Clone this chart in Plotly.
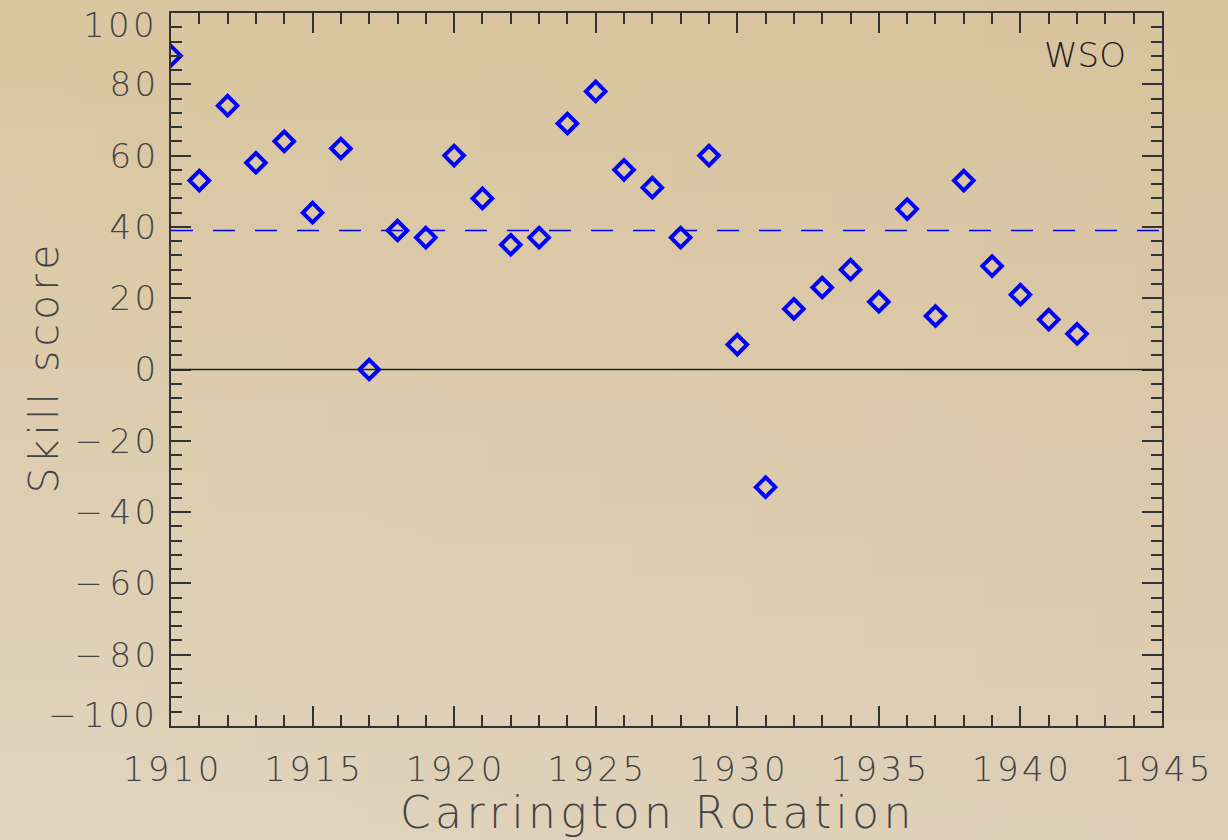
import base64
import struct
import zlib

import plotly.graph_objects as go

rotations = list(range(1910, 1943))
skill = [88, 53, 74, 58, 64, 44, 62, 0, 39, 37, 60, 48, 35, 37, 69, 78, 56, 51, 37, 60,
         7, -33, 17, 23, 28, 19, 45, 15, 53, 29, 21, 14, 10]
mean_skill = 39
x_range = [1910, 1945]
y_range = [-100, 100]
x_ticks = [1910, 1915, 1920, 1925, 1930, 1935, 1940, 1945]
y_ticks = [-80, -60, -40, -20, 0, 20, 40, 60, 80]
y_edge_ticks = [100, -100]
label = "WSO"

AX = "#333333"
TXT = "#444444"
FONT = "DejaVu Sans"
HS = "\u200a"


def spaced(s):
    return HS.join(s)


def ylabel(v):
    s = str(abs(v))
    return ("\u2212\u2009" if v < 0 else "") + spaced(s)


# ---- parchment-like background gradient (style only) ----
def gradient_png(w, h, tl, tr, bl, br):
    rows = []
    for j in range(h):
        fy = j / (h - 1)
        row = bytearray([0])
        for i in range(w):
            fx = i / (w - 1)
            px = []
            for c in range(3):
                top = tl[c] * (1 - fx) + tr[c] * fx
                bot = bl[c] * (1 - fx) + br[c] * fx
                px.append(int(round(top * (1 - fy) + bot * fy)))
            row.extend(px)
        rows.append(bytes(row))
    raw = b"".join(rows)

    def chunk(tag, data):
        c = struct.pack(">I", len(data)) + tag + data
        return c + struct.pack(">I", zlib.crc32(tag + data) & 0xffffffff)

    png = b"\x89PNG\r\n\x1a\n"
    png += chunk(b"IHDR", struct.pack(">IIBBBBB", w, h, 8, 2, 0, 0, 0))
    png += chunk(b"IDAT", zlib.compress(raw, 9))
    png += chunk(b"IEND", b"")
    return "data:image/png;base64," + base64.b64encode(png).decode()


bg_src = gradient_png(32, 24, (218, 198, 160), (216, 195, 158), (225, 212, 190), (222, 206, 182))

W, H = 1228, 840
ML, MR, MT, MB = 171, 66, 13, 114
PW, PH = W - ML - MR, H - MT - MB

fig = go.Figure()
fig.add_trace(go.Scatter(
    x=rotations, y=skill, mode="markers",
    marker=dict(symbol="diamond-open", size=15, color="#0000ff",
                line=dict(width=4, color="#0000ff")),
    cliponaxis=True, showlegend=False))

fig.add_shape(type="line", xref="paper", x0=0, x1=1, yref="y", y0=0, y1=0,
              line=dict(color="#222222", width=1.5))
fig.add_shape(type="line", xref="paper", x0=0, x1=1, yref="y", y0=mean_skill, y1=mean_skill,
              line=dict(color="#0000ff", width=1.5, dash="22px,20px"))

fig.add_layout_image(source=bg_src, xref="paper", yref="paper",
                     x=-ML / PW, y=1 + MT / PH, sizex=W / PW, sizey=H / PH,
                     sizing="stretch", xanchor="left", yanchor="top", layer="below")

# label in the corner
fig.add_annotation(x=1, y=1, xref="paper", yref="paper", text=label,
                   showarrow=False, xanchor="right", yanchor="middle", xshift=-34, yshift=-42,
                   font=dict(family=FONT, size=34, color="#222222", weight=200))

# edge tick labels (shifted inward as in the original)
for v, shift in zip(y_edge_ticks, [-12, 11]):
    fig.add_annotation(x=0, y=v, xref="paper", yref="y", text=ylabel(v),
                       showarrow=False, xanchor="right", yanchor="middle",
                       xshift=-14, yshift=shift,
                       font=dict(family=FONT, size=34, color=TXT, weight=200))

# axis titles
fig.add_annotation(x=0, y=0.5, xref="paper", yref="paper", text=spaced("Skill score"),
                   showarrow=False, textangle=-90, xanchor="center", yanchor="middle",
                   xshift=-128, font=dict(family=FONT, size=41, color=TXT, weight=200))
fig.add_annotation(x=0.489, y=0, xref="paper", yref="paper", text=spaced("Carrington Rotation"),
                   showarrow=False, xanchor="center", yanchor="bottom", borderpad=0,
                   yshift=-(MB - 1), font=dict(family=FONT, size=44, color=TXT, weight=200))

axis_common = dict(
    showline=True, linecolor=AX, linewidth=2, mirror="allticks",
    ticks="inside", tickcolor=AX, tickwidth=2, ticklen=20,
    showgrid=False, zeroline=False, automargin=False,
    tickfont=dict(family=FONT, size=34, color=TXT, weight=200),
)

fig.update_xaxes(range=x_range, tickmode="array", tickvals=x_ticks,
                 ticktext=[spaced(str(v)) for v in x_ticks],
                 minor=dict(dtick=1, tick0=1910, ticks="inside", ticklen=11, tickcolor=AX, tickwidth=2, showgrid=False),
                 ticklabelstandoff=12,
                 **axis_common)
fig.update_yaxes(range=y_range, tickmode="array", tickvals=y_ticks,
                 ticktext=[ylabel(v) for v in y_ticks],
                 minor=dict(dtick=4, tick0=0, ticks="inside", ticklen=11, tickcolor=AX, tickwidth=2, showgrid=False),
                 ticklabelstandoff=6,
                 **axis_common)

fig.update_layout(
    width=W, height=H,
    margin=dict(l=ML, r=MR, t=MT, b=MB),
    paper_bgcolor="#dac8aa", plot_bgcolor="rgba(0,0,0,0)",
    font=dict(family=FONT, color=TXT),
)

fig.write_html("out.html")
